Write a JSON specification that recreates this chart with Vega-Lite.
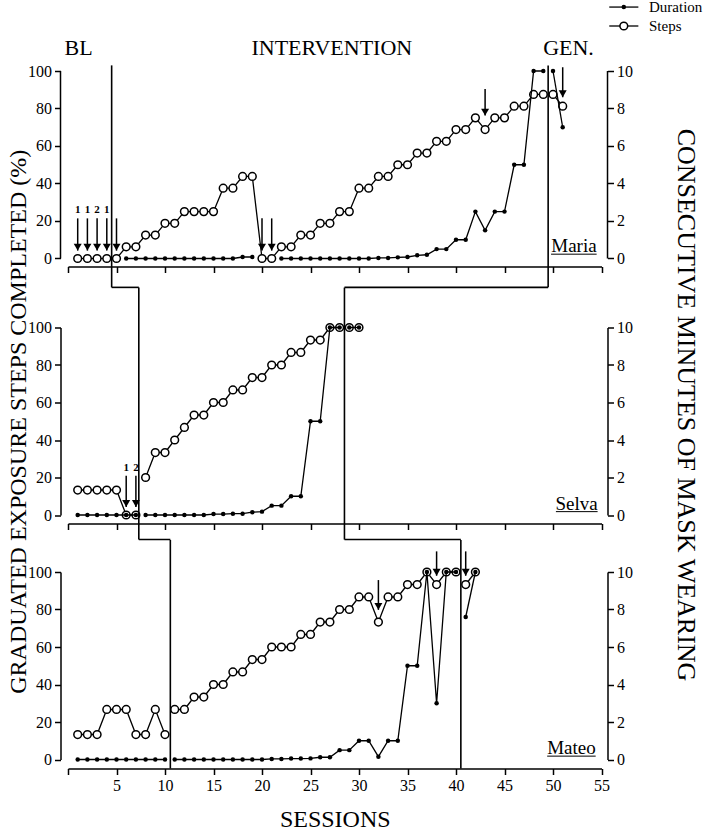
{
  "$schema": "https://vega.github.io/schema/vega-lite/v6.json",
  "padding": {"left": 6, "top": 0, "right": 2, "bottom": 2},
  "bounds": "flush",
  "spacing": 56.5,
  "config": {
    "font": "Liberation Serif",
    "view": {"stroke": null},
    "axis": {"grid": false, "labelOverlap": false, "labelFlush": false, "domainColor": "#000", "domainWidth": 1.5, "tickColor": "#000", "tickWidth": 1.5, "tickSize": 6, "labelColor": "#000", "labelFont": "Liberation Serif", "labelFontSize": 16, "labelPadding": 3, "titleColor": "#000", "titleFont": "Liberation Serif", "titleFontWeight": "normal", "titleFontSize": 24}
  },
  "datasets": {
    "maria": [
      {"s":1,"steps":0,"dur":null,"phase":"BL"},{"s":2,"steps":0,"dur":null,"phase":"BL"},{"s":3,"steps":0,"dur":null,"phase":"BL"},{"s":4,"steps":0,"dur":null,"phase":"BL"},
      {"s":5,"steps":0,"dur":null,"phase":"INT"},{"s":6,"steps":6.25,"dur":0,"phase":"INT"},{"s":7,"steps":6.25,"dur":0,"phase":"INT"},{"s":8,"steps":12.5,"dur":0,"phase":"INT"},{"s":9,"steps":12.5,"dur":0,"phase":"INT"},
      {"s":10,"steps":18.75,"dur":0,"phase":"INT"},{"s":11,"steps":18.75,"dur":0,"phase":"INT"},{"s":12,"steps":25,"dur":0,"phase":"INT"},{"s":13,"steps":25,"dur":0,"phase":"INT"},{"s":14,"steps":25,"dur":0,"phase":"INT"},
      {"s":15,"steps":25,"dur":0,"phase":"INT"},{"s":16,"steps":37.5,"dur":0,"phase":"INT"},{"s":17,"steps":37.5,"dur":0,"phase":"INT"},{"s":18,"steps":43.75,"dur":0.08,"phase":"INT"},{"s":19,"steps":43.75,"dur":0.08,"phase":"INT"},
      {"s":20,"steps":0,"dur":null,"phase":"INT"},{"s":21,"steps":0,"dur":null,"phase":"INT"},{"s":22,"steps":6.25,"dur":0,"phase":"INT"},{"s":23,"steps":6.25,"dur":0,"phase":"INT"},{"s":24,"steps":12.5,"dur":0,"phase":"INT"},
      {"s":25,"steps":12.5,"dur":0,"phase":"INT"},{"s":26,"steps":18.75,"dur":0,"phase":"INT"},{"s":27,"steps":18.75,"dur":0,"phase":"INT"},{"s":28,"steps":25,"dur":0,"phase":"INT"},{"s":29,"steps":25,"dur":0,"phase":"INT"},
      {"s":30,"steps":37.5,"dur":0,"phase":"INT"},{"s":31,"steps":37.5,"dur":0,"phase":"INT"},{"s":32,"steps":43.75,"dur":0.03,"phase":"INT"},{"s":33,"steps":43.75,"dur":0.03,"phase":"INT"},{"s":34,"steps":50,"dur":0.06,"phase":"INT"},
      {"s":35,"steps":50,"dur":0.08,"phase":"INT"},{"s":36,"steps":56.25,"dur":0.17,"phase":"INT"},{"s":37,"steps":56.25,"dur":0.2,"phase":"INT"},{"s":38,"steps":62.5,"dur":0.5,"phase":"INT"},{"s":39,"steps":62.5,"dur":0.5,"phase":"INT"},
      {"s":40,"steps":68.75,"dur":1.0,"phase":"INT"},{"s":41,"steps":68.75,"dur":1.0,"phase":"INT"},{"s":42,"steps":75,"dur":2.5,"phase":"INT"},{"s":43,"steps":68.75,"dur":1.5,"phase":"INT"},{"s":44,"steps":75,"dur":2.5,"phase":"INT"},
      {"s":45,"steps":75,"dur":2.5,"phase":"INT"},{"s":46,"steps":81.25,"dur":5,"phase":"INT"},{"s":47,"steps":81.25,"dur":5,"phase":"INT"},{"s":48,"steps":87.5,"dur":10,"phase":"INT"},{"s":49,"steps":87.5,"dur":10,"phase":"INT"},
      {"s":50,"steps":87.5,"dur":10,"phase":"GEN"},{"s":51,"steps":81.25,"dur":7,"phase":"GEN"}
    ],
    "selva": [
      {"s":1,"steps":13.33,"dur":0,"phase":"BL"},{"s":2,"steps":13.33,"dur":0,"phase":"BL"},{"s":3,"steps":13.33,"dur":0,"phase":"BL"},{"s":4,"steps":13.33,"dur":0,"phase":"BL"},{"s":5,"steps":13.33,"dur":0,"phase":"BL"},
      {"s":6,"steps":0,"dur":0,"phase":"BL"},{"s":7,"steps":0,"dur":0,"phase":"BL"},{"s":8,"steps":20,"dur":0,"phase":"INT"},{"s":9,"steps":33.33,"dur":0,"phase":"INT"},{"s":10,"steps":33.33,"dur":0,"phase":"INT"},
      {"s":11,"steps":40,"dur":0,"phase":"INT"},{"s":12,"steps":46.67,"dur":0,"phase":"INT"},{"s":13,"steps":53.33,"dur":0,"phase":"INT"},{"s":14,"steps":53.33,"dur":0,"phase":"INT"},{"s":15,"steps":60,"dur":0.05,"phase":"INT"},
      {"s":16,"steps":60,"dur":0.05,"phase":"INT"},{"s":17,"steps":66.67,"dur":0.07,"phase":"INT"},{"s":18,"steps":66.67,"dur":0.07,"phase":"INT"},{"s":19,"steps":73.33,"dur":0.15,"phase":"INT"},{"s":20,"steps":73.33,"dur":0.18,"phase":"INT"},
      {"s":21,"steps":80,"dur":0.5,"phase":"INT"},{"s":22,"steps":80,"dur":0.5,"phase":"INT"},{"s":23,"steps":86.67,"dur":1.0,"phase":"INT"},{"s":24,"steps":86.67,"dur":1.0,"phase":"INT"},{"s":25,"steps":93.33,"dur":5,"phase":"INT"},
      {"s":26,"steps":93.33,"dur":5,"phase":"INT"},{"s":27,"steps":100,"dur":10,"phase":"INT"},{"s":28,"steps":100,"dur":10,"phase":"INT"},{"s":29,"steps":100,"dur":10,"phase":"GEN"},{"s":30,"steps":100,"dur":10,"phase":"GEN"}
    ],
    "mateo": [
      {"s":1,"steps":13.33,"dur":0,"phase":"BL"},{"s":2,"steps":13.33,"dur":0,"phase":"BL"},{"s":3,"steps":13.33,"dur":0,"phase":"BL"},{"s":4,"steps":26.67,"dur":0,"phase":"BL"},{"s":5,"steps":26.67,"dur":0,"phase":"BL"},
      {"s":6,"steps":26.67,"dur":0,"phase":"BL"},{"s":7,"steps":13.33,"dur":0,"phase":"BL"},{"s":8,"steps":13.33,"dur":0,"phase":"BL"},{"s":9,"steps":26.67,"dur":0,"phase":"BL"},{"s":10,"steps":13.33,"dur":0,"phase":"BL"},
      {"s":11,"steps":26.67,"dur":0,"phase":"INT"},{"s":12,"steps":26.67,"dur":0,"phase":"INT"},{"s":13,"steps":33.33,"dur":0,"phase":"INT"},{"s":14,"steps":33.33,"dur":0,"phase":"INT"},{"s":15,"steps":40,"dur":0,"phase":"INT"},
      {"s":16,"steps":40,"dur":0,"phase":"INT"},{"s":17,"steps":46.67,"dur":0,"phase":"INT"},{"s":18,"steps":46.67,"dur":0,"phase":"INT"},{"s":19,"steps":53.33,"dur":0,"phase":"INT"},{"s":20,"steps":53.33,"dur":0,"phase":"INT"},
      {"s":21,"steps":60,"dur":0.03,"phase":"INT"},{"s":22,"steps":60,"dur":0.03,"phase":"INT"},{"s":23,"steps":60,"dur":0.05,"phase":"INT"},{"s":24,"steps":66.67,"dur":0.05,"phase":"INT"},{"s":25,"steps":66.67,"dur":0.06,"phase":"INT"},
      {"s":26,"steps":73.33,"dur":0.12,"phase":"INT"},{"s":27,"steps":73.33,"dur":0.12,"phase":"INT"},{"s":28,"steps":80,"dur":0.5,"phase":"INT"},{"s":29,"steps":80,"dur":0.5,"phase":"INT"},{"s":30,"steps":86.67,"dur":1.0,"phase":"INT"},
      {"s":31,"steps":86.67,"dur":1.0,"phase":"INT"},{"s":32,"steps":73.33,"dur":0.15,"phase":"INT"},{"s":33,"steps":86.67,"dur":1.0,"phase":"INT"},{"s":34,"steps":86.67,"dur":1.0,"phase":"INT"},{"s":35,"steps":93.33,"dur":5,"phase":"INT"},
      {"s":36,"steps":93.33,"dur":5,"phase":"INT"},{"s":37,"steps":100,"dur":10,"phase":"INT"},{"s":38,"steps":93.33,"dur":3,"phase":"INT"},{"s":39,"steps":100,"dur":10,"phase":"INT"},{"s":40,"steps":100,"dur":10,"phase":"INT"},
      {"s":41,"steps":93.33,"dur":7.6,"phase":"GEN"},{"s":42,"steps":100,"dur":10,"phase":"GEN"}
    ]
  },
  "vconcat": [
    {
      "width": 533.5, "height": 200,
      "layer": [
        {
          "layer": [
            {"data": {"name": "maria"}, "mark": {"type": "line", "color": "#000", "strokeWidth": 1.3},
             "encoding": {
               "x": {"field": "s", "type": "quantitative", "scale": {"domain": [0, 55], "nice": false, "zero": false}, "axis": {"values": [0,5,10,15,20,25,30,35,40,45,50,55], "tickCount": 40, "labels": false, "title": null, "offset": -4.5}},
               "y": {"field": "steps", "type": "quantitative", "scale": {"domain": [-6.667, 100], "nice": false, "zero": false}, "axis": {"values": [0,20,40,60,80,100], "tickCount": 20, "format": "d", "title": null, "offset": 7.5, "domain": false}},
               "detail": {"field": "phase"}}},
            {"data": {"name": "maria"}, "mark": {"type": "point", "shape": "circle", "filled": true, "fill": "#fff", "stroke": "#000", "strokeWidth": 1.5, "size": 60, "opacity": 1},
             "encoding": {"x": {"field": "s", "type": "quantitative"}, "y": {"field": "steps", "type": "quantitative"}}},
            {"data": {"values": [{"x1":4.5,"y1":103,"x2":4.5,"y2":-15.4},{"x1":4.5,"y1":-15.4,"x2":7.3,"y2":-15.4},{"x1":49.5,"y1":103,"x2":49.5,"y2":-15.4},{"x1":28.5,"y1":-15.4,"x2":49.5,"y2":-15.4}]},
             "mark": {"type": "rule", "color": "#000", "strokeWidth": 1.6},
             "encoding": {"x": {"field": "x1", "type": "quantitative"}, "x2": {"field": "x2"}, "y": {"field": "y1", "type": "quantitative"}, "y2": {"field": "y2"}}},
            {"data": {"values": [{}]}, "mark": {"type": "rule", "color": "#000", "strokeWidth": 1.5},
             "encoding": {"x": {"datum": -0.773}, "y": {"datum": 0}, "y2": {"datum": 100}}},
            {"data": {"values": [{}]}, "mark": {"type": "rule", "color": "#000", "strokeWidth": 1.5},
             "encoding": {"x": {"datum": 55.62}, "y": {"datum": 0}, "y2": {"datum": 100}}},
            {"data": {"values": [{"s":1,"top":21.4,"tip":4.2,"label":"1"},{"s":2,"top":21.4,"tip":4.2,"label":"1"},{"s":3,"top":21.4,"tip":4.2,"label":"2"},{"s":4,"top":21.4,"tip":4.2,"label":"1"},{"s":5,"top":21.4,"tip":4.2,"label":""},{"s":20,"top":21.4,"tip":4.2,"label":""},{"s":21,"top":21.4,"tip":4.2,"label":""},{"s":43,"top":90.4,"tip":76.2,"label":""},{"s":51,"top":102,"tip":86,"label":""}]},
             "layer": [
               {"mark": {"type": "rule", "color": "#000", "strokeWidth": 1.5}, "encoding": {"x": {"field": "s", "type": "quantitative"}, "y": {"field": "top", "type": "quantitative"}, "y2": {"field": "tip"}}},
               {"mark": {"type": "point", "shape": "triangle-down", "filled": true, "color": "#000", "size": 64, "opacity": 1, "yOffset": -3.5}, "encoding": {"x": {"field": "s", "type": "quantitative"}, "y": {"field": "tip", "type": "quantitative"}}},
               {"mark": {"type": "text", "fontSize": 11, "fontWeight": "bold", "color": "#000", "baseline": "middle", "dy": -8}, "encoding": {"x": {"field": "s", "type": "quantitative"}, "y": {"field": "top", "type": "quantitative"}, "text": {"field": "label"}}}
             ]},
            {"data": {"values": [{"label":"BL","s":1.1},{"label":"INTERVENTION","s":27.2},{"label":"GEN.","s":51.6}]},
             "mark": {"type": "text", "fontSize": 22, "color": "#000", "baseline": "middle", "align": "center"},
             "encoding": {"x": {"field": "s", "type": "quantitative"}, "y": {"datum": 112.5}, "text": {"field": "label"}}},
            {"data": {"values": [{"name":"Maria"}]},
             "layer": [
               {"mark": {"type": "text", "fontSize": 19, "color": "#000", "align": "right", "baseline": "alphabetic"}, "encoding": {"x": {"datum": 54.5}, "y": {"datum": 3.5}, "text": {"field": "name"}}},
               {"mark": {"type": "rule", "color": "#000", "strokeWidth": 1}, "encoding": {"x": {"datum": 49.8}, "x2": {"datum": 54.5}, "y": {"datum": 2.3}}}
             ]},
            {"data": {"values": [{"label":"Duration","ly":134.1},{"label":"Steps","ly":124}]},
             "layer": [
               {"mark": {"type": "rule", "color": "#000", "strokeWidth": 1.3}, "encoding": {"x": {"datum": 55.8}, "x2": {"datum": 58.8}, "y": {"field": "ly", "type": "quantitative"}}},
               {"transform": [{"filter": "datum.label == 'Duration'"}], "mark": {"type": "point", "shape": "circle", "filled": true, "color": "#000", "size": 20, "opacity": 1}, "encoding": {"x": {"datum": 57.3}, "y": {"field": "ly", "type": "quantitative"}}},
               {"transform": [{"filter": "datum.label == 'Steps'"}], "mark": {"type": "point", "shape": "circle", "filled": true, "fill": "#fff", "stroke": "#000", "strokeWidth": 1.5, "size": 60, "opacity": 1}, "encoding": {"x": {"datum": 57.3}, "y": {"field": "ly", "type": "quantitative"}}},
               {"mark": {"type": "text", "fontSize": 15, "color": "#000", "align": "left", "baseline": "middle"}, "encoding": {"x": {"datum": 59.9}, "y": {"field": "ly", "type": "quantitative"}, "text": {"field": "label"}}}
             ]}
          ]
        },
        {
          "data": {"name": "maria"},
          "layer": [
            {"mark": {"type": "line", "color": "#000", "strokeWidth": 1.3, "invalid": "break-paths-show-domains"},
             "encoding": {
               "x": {"field": "s", "type": "quantitative"},
               "y": {"field": "dur", "type": "quantitative", "scale": {"domain": [-0.6667, 10], "nice": false, "zero": false}, "axis": {"orient": "right", "values": [0,2,4,6,8,10], "tickCount": 20, "format": "d", "title": null, "offset": 6, "domain": false}},
               "detail": {"field": "phase"}}},
            {"mark": {"type": "point", "shape": "circle", "filled": true, "color": "#000", "size": 20, "opacity": 1},
             "encoding": {"x": {"field": "s", "type": "quantitative"}, "y": {"field": "dur", "type": "quantitative"}}}
          ]
        }
      ],
      "resolve": {"scale": {"y": "independent"}}
    },
    {
      "width": 533.5, "height": 187.5,
      "layer": [
        {
          "layer": [
            {"data": {"name": "selva"}, "mark": {"type": "line", "color": "#000", "strokeWidth": 1.3},
             "encoding": {
               "x": {"field": "s", "type": "quantitative", "scale": {"domain": [0, 55], "nice": false, "zero": false}, "axis": {"values": [0,5,10,15,20,25,30,35,40,45,50,55], "tickCount": 40, "labels": false, "title": null, "offset": 8.5}},
               "y": {"field": "steps", "type": "quantitative", "scale": {"domain": [0, 100], "nice": false, "zero": false}, "axis": {"values": [0,20,40,60,80,100], "tickCount": 20, "format": "d", "title": "GRADUATED EXPOSURE STEPS COMPLETED (%)", "titlePadding": -3, "offset": 7.5}},
               "detail": {"field": "phase"}}},
            {"data": {"name": "selva"}, "mark": {"type": "point", "shape": "circle", "filled": true, "fill": "#fff", "stroke": "#000", "strokeWidth": 1.5, "size": 60, "opacity": 1},
             "encoding": {"x": {"field": "s", "type": "quantitative"}, "y": {"field": "steps", "type": "quantitative"}}},
            {"data": {"values": [{"x1":7.3,"y1":121.3,"x2":7.3,"y2":-13.1},{"x1":7.3,"y1":-13.1,"x2":10.55,"y2":-13.1},{"x1":28.5,"y1":121.3,"x2":28.5,"y2":-13.1},{"x1":28.5,"y1":-13.1,"x2":40.5,"y2":-13.1}]},
             "mark": {"type": "rule", "color": "#000", "strokeWidth": 1.6},
             "encoding": {"x": {"field": "x1", "type": "quantitative"}, "x2": {"field": "x2"}, "y": {"field": "y1", "type": "quantitative"}, "y2": {"field": "y2"}}},
            {"data": {"values": [{"s":6,"top":20.9,"tip":4.3,"label":"1"},{"s":7,"top":20.9,"tip":4.3,"label":"2"}]},
             "layer": [
               {"mark": {"type": "rule", "color": "#000", "strokeWidth": 1.5}, "encoding": {"x": {"field": "s", "type": "quantitative"}, "y": {"field": "top", "type": "quantitative"}, "y2": {"field": "tip"}}},
               {"mark": {"type": "point", "shape": "triangle-down", "filled": true, "color": "#000", "size": 64, "opacity": 1, "yOffset": -3.5}, "encoding": {"x": {"field": "s", "type": "quantitative"}, "y": {"field": "tip", "type": "quantitative"}}},
               {"mark": {"type": "text", "fontSize": 11, "fontWeight": "bold", "color": "#000", "baseline": "middle", "dy": -8}, "encoding": {"x": {"field": "s", "type": "quantitative"}, "y": {"field": "top", "type": "quantitative"}, "text": {"field": "label"}}}
             ]},
            {"data": {"values": [{"name":"Selva"}]},
             "layer": [
               {"mark": {"type": "text", "fontSize": 19, "color": "#000", "align": "right", "baseline": "alphabetic"}, "encoding": {"x": {"datum": 54.6}, "y": {"datum": 2.9}, "text": {"field": "name"}}},
               {"mark": {"type": "rule", "color": "#000", "strokeWidth": 1}, "encoding": {"x": {"datum": 50.3}, "x2": {"datum": 54.6}, "y": {"datum": 1.8}}}
             ]}
          ]
        },
        {
          "data": {"name": "selva"},
          "layer": [
            {"mark": {"type": "line", "color": "#000", "strokeWidth": 1.3},
             "encoding": {
               "x": {"field": "s", "type": "quantitative"},
               "y": {"field": "dur", "type": "quantitative", "scale": {"domain": [0, 10], "nice": false, "zero": false}, "axis": {"orient": "right", "values": [0,2,4,6,8,10], "tickCount": 20, "format": "d", "title": "CONSECUTIVE MINUTES OF MASK WEARING", "titleFontSize": 26, "titlePadding": 40, "titleY": 77, "offset": 6}},
               "detail": {"field": "phase"}}},
            {"mark": {"type": "point", "shape": "circle", "filled": true, "color": "#000", "size": 20, "opacity": 1},
             "encoding": {"x": {"field": "s", "type": "quantitative"}, "y": {"field": "dur", "type": "quantitative"}}}
          ]
        }
      ],
      "resolve": {"scale": {"y": "independent"}}
    },
    {
      "width": 533.5, "height": 187.5,
      "layer": [
        {
          "layer": [
            {"data": {"name": "mateo"}, "mark": {"type": "line", "color": "#000", "strokeWidth": 1.3},
             "encoding": {
               "x": {"field": "s", "type": "quantitative", "scale": {"domain": [0, 55], "nice": false, "zero": false}, "axis": {"values": [0,5,10,15,20,25,30,35,40,45,50,55], "tickCount": 40, "labelExpr": "datum.value == 0 ? '' : datum.label", "title": "SESSIONS", "titlePadding": 14, "offset": 9}},
               "y": {"field": "steps", "type": "quantitative", "scale": {"domain": [0, 100], "nice": false, "zero": false}, "axis": {"values": [0,20,40,60,80,100], "tickCount": 20, "format": "d", "title": null, "offset": 7.5}},
               "detail": {"field": "phase"}}},
            {"data": {"name": "mateo"}, "mark": {"type": "point", "shape": "circle", "filled": true, "fill": "#fff", "stroke": "#000", "strokeWidth": 1.5, "size": 60, "opacity": 1},
             "encoding": {"x": {"field": "s", "type": "quantitative"}, "y": {"field": "steps", "type": "quantitative"}}},
            {"data": {"values": [{"x1":10.55,"y1":117.1,"x2":10.55,"y2":-4.8},{"x1":40.5,"y1":117.1,"x2":40.5,"y2":-4.8}]},
             "mark": {"type": "rule", "color": "#000", "strokeWidth": 1.6},
             "encoding": {"x": {"field": "x1", "type": "quantitative"}, "x2": {"field": "x2"}, "y": {"field": "y1", "type": "quantitative"}, "y2": {"field": "y2"}}},
            {"data": {"values": [{"s":32,"top":95.7,"tip":79.8,"label":""},{"s":38,"top":111,"tip":98,"label":""},{"s":41,"top":111,"tip":98,"label":""}]},
             "layer": [
               {"mark": {"type": "rule", "color": "#000", "strokeWidth": 1.5}, "encoding": {"x": {"field": "s", "type": "quantitative"}, "y": {"field": "top", "type": "quantitative"}, "y2": {"field": "tip"}}},
               {"mark": {"type": "point", "shape": "triangle-down", "filled": true, "color": "#000", "size": 64, "opacity": 1, "yOffset": -3.5}, "encoding": {"x": {"field": "s", "type": "quantitative"}, "y": {"field": "tip", "type": "quantitative"}}}
             ]},
            {"data": {"values": [{"name":"Mateo"}]},
             "layer": [
               {"mark": {"type": "text", "fontSize": 19, "color": "#000", "align": "right", "baseline": "alphabetic"}, "encoding": {"x": {"datum": 54.4}, "y": {"datum": 2.9}, "text": {"field": "name"}}},
               {"mark": {"type": "rule", "color": "#000", "strokeWidth": 1}, "encoding": {"x": {"datum": 49.4}, "x2": {"datum": 54.4}, "y": {"datum": 1.8}}}
             ]}
          ]
        },
        {
          "data": {"name": "mateo"},
          "layer": [
            {"mark": {"type": "line", "color": "#000", "strokeWidth": 1.3},
             "encoding": {
               "x": {"field": "s", "type": "quantitative"},
               "y": {"field": "dur", "type": "quantitative", "scale": {"domain": [0, 10], "nice": false, "zero": false}, "axis": {"orient": "right", "values": [0,2,4,6,8,10], "tickCount": 20, "format": "d", "title": null, "offset": 6}},
               "detail": {"field": "phase"}}},
            {"mark": {"type": "point", "shape": "circle", "filled": true, "color": "#000", "size": 20, "opacity": 1},
             "encoding": {"x": {"field": "s", "type": "quantitative"}, "y": {"field": "dur", "type": "quantitative"}}}
          ]
        }
      ],
      "resolve": {"scale": {"y": "independent"}}
    }
  ]
}
